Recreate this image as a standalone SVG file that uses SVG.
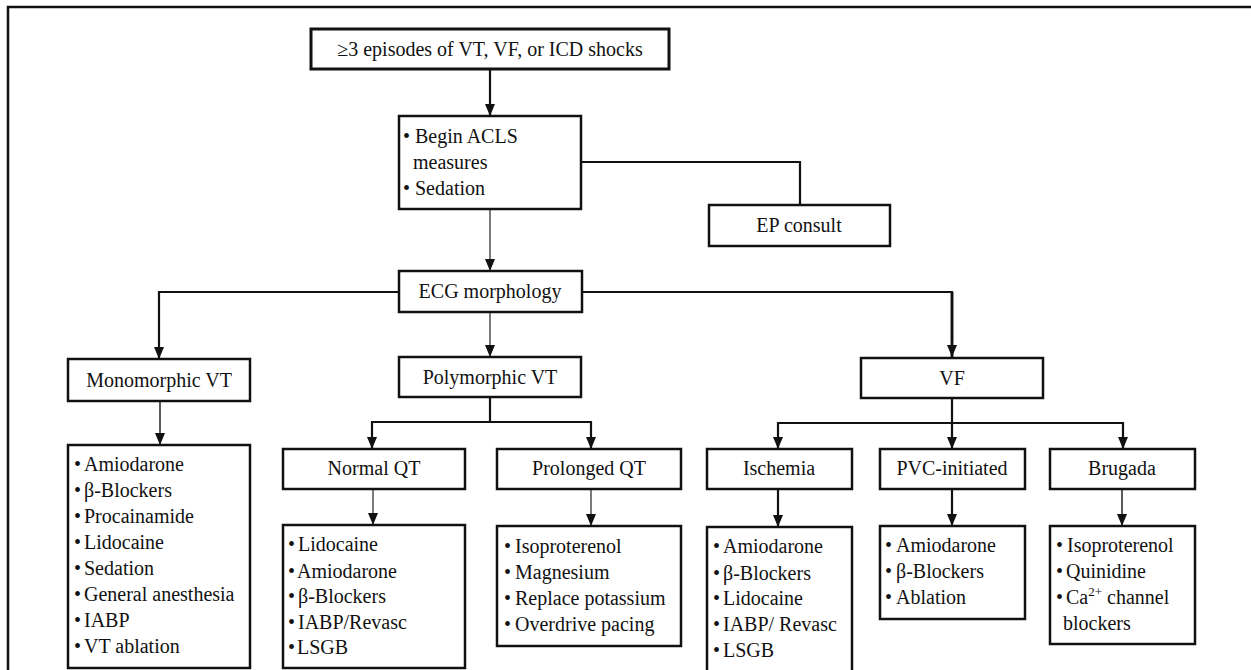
<svg xmlns="http://www.w3.org/2000/svg" width="1251" height="670" viewBox="0 0 1251 670" font-family="'Liberation Serif', 'DejaVu Serif', serif">
<style>
  text { font-family: 'Liberation Serif', 'DejaVu Serif', serif; font-size: 20px; fill: #111; }
  .c { text-anchor: middle; }
  .box { fill: #fff; stroke: #111; stroke-width: 2.5; }
  .thick { fill: #fff; stroke: #111; stroke-width: 3; }
  .k { fill: none; stroke: #111; stroke-width: 2.2; }
  .t { fill: none; stroke: #333; stroke-width: 1.3; }
  .a { marker-end: url(#arr); }
</style>
<defs>
  <marker id="arr" markerUnits="userSpaceOnUse" markerWidth="12" markerHeight="12" viewBox="0 0 12 12" refX="12" refY="6" orient="auto">
    <path d="M0,1 L12,6 L0,11 z" fill="#111"/>
  </marker>
</defs>
<rect width="1251" height="670" fill="#fff"/>
<path d="M8,680 V7 H1251" fill="none" stroke="#111" stroke-width="2.5"/>

<g id="connectors">
  <line class="k a" x1="490" y1="69" x2="490" y2="116"/>
  <polyline class="k" points="581,162 800,162 800,205"/>
  <line class="t a" x1="490" y1="209" x2="490" y2="271"/>
  <polyline class="k a" points="399,292 159,292 159,359"/>
  <polyline class="k" points="582,292 952,292 952,340"/>
  <line x1="952" y1="292" x2="952" y2="357" stroke="#111" stroke-width="2.8" marker-end="url(#arr)"/>
  <line class="t a" x1="490" y1="312" x2="490" y2="357"/>
  <line class="t a" x1="160" y1="401" x2="160" y2="445" style="stroke-width:1.6"/>
  <polyline class="k" points="490,397 490,422"/>
  <polyline class="k a" points="490,422 372,422 372,449"/>
  <polyline class="k a" points="490,422 591,422 591,449"/>
  <line class="t a" x1="373" y1="489" x2="373" y2="525"/>
  <line class="t a" x1="591" y1="489" x2="591" y2="526"/>
  <line class="k a" x1="952" y1="398" x2="952" y2="449"/>
  <polyline class="k a" points="952,423 778,423 778,449"/>
  <polyline class="k a" points="952,423 1123,423 1123,449"/>
  <line class="k a" x1="778" y1="489" x2="778" y2="527"/>
  <line class="k a" x1="952" y1="489" x2="952" y2="526"/>
  <line class="t a" x1="1122" y1="489" x2="1122" y2="526" style="stroke-width:1.6"/>
</g>

<g id="n-start">
  <rect class="thick" x="311" y="29" width="358" height="40"/>
  <text class="c" x="490" y="56">≥3 episodes of VT, VF, or ICD shocks</text>
</g>
<g id="n-acls">
  <rect class="box" x="399" y="116" width="182" height="93"/>
  <text x="403" y="143">•</text><text x="415" y="143">Begin ACLS</text>
  <text x="413" y="169">measures</text>
  <text x="403" y="195">•</text><text x="415" y="195">Sedation</text>
</g>
<g id="n-ep">
  <rect class="box" x="709" y="205" width="181" height="41"/>
  <text class="c" x="799" y="232">EP consult</text>
</g>
<g id="n-ecg">
  <rect class="box" x="399" y="271" width="183" height="41"/>
  <text class="c" x="490" y="298">ECG morphology</text>
</g>
<g id="n-mono">
  <rect class="box" x="68" y="359" width="182" height="42"/>
  <text class="c" x="159" y="387">Monomorphic VT</text>
</g>
<g id="n-poly">
  <rect class="box" x="399" y="357" width="182" height="40"/>
  <text class="c" x="490" y="384">Polymorphic VT</text>
</g>
<g id="n-vf">
  <rect class="box" x="861" y="358" width="182" height="40"/>
  <text class="c" x="952" y="385">VF</text>
</g>
<g id="n-mono-list">
  <rect class="box" x="68" y="445" width="182" height="223"/>
  <text x="74" y="471">•</text><text x="84" y="471">Amiodarone</text>
  <text x="74" y="497">•</text><text x="84" y="497">β-Blockers</text>
  <text x="74" y="523">•</text><text x="84" y="523">Procainamide</text>
  <text x="74" y="549">•</text><text x="84" y="549">Lidocaine</text>
  <text x="74" y="575">•</text><text x="84" y="575">Sedation</text>
  <text x="74" y="601">•</text><text x="84" y="601">General anesthesia</text>
  <text x="74" y="627">•</text><text x="84" y="627">IABP</text>
  <text x="74" y="653">•</text><text x="84" y="653">VT ablation</text>
</g>
<g id="n-normal">
  <rect class="box" x="283" y="449" width="182" height="40"/>
  <text class="c" x="374" y="475">Normal QT</text>
</g>
<g id="n-normal-list">
  <rect class="box" x="283" y="525" width="182" height="143"/>
  <text x="288" y="551">•</text><text x="298" y="551">Lidocaine</text>
  <text x="288" y="578">•</text><text x="297" y="578">Amiodarone</text>
  <text x="288" y="603">•</text><text x="298" y="603">β-Blockers</text>
  <text x="288" y="629">•</text><text x="298" y="629">IABP/Revasc</text>
  <text x="288" y="654">•</text><text x="297" y="654">LSGB</text>
</g>
<g id="n-prolonged">
  <rect class="box" x="497" y="449" width="184" height="40"/>
  <text class="c" x="589" y="475">Prolonged QT</text>
</g>
<g id="n-prolonged-list">
  <rect class="box" x="497" y="526" width="184" height="120"/>
  <text x="504" y="553">•</text><text x="515" y="553">Isoproterenol</text>
  <text x="504" y="579">•</text><text x="515" y="579">Magnesium</text>
  <text x="504" y="605">•</text><text x="515" y="605">Replace potassium</text>
  <text x="504" y="631">•</text><text x="515" y="631">Overdrive pacing</text>
</g>
<g id="n-ischemia">
  <rect class="box" x="707" y="449" width="145" height="40"/>
  <text class="c" x="779" y="475">Ischemia</text>
</g>
<g id="n-ischemia-list">
  <rect class="box" x="707" y="527" width="145" height="160"/>
  <text x="713" y="553">•</text><text x="723" y="553">Amiodarone</text>
  <text x="713" y="580">•</text><text x="723" y="580">β-Blockers</text>
  <text x="713" y="605">•</text><text x="723" y="605">Lidocaine</text>
  <text x="713" y="631">•</text><text x="723" y="631">IABP/ Revasc</text>
  <text x="713" y="657">•</text><text x="723" y="657">LSGB</text>
</g>
<g id="n-pvc">
  <rect class="box" x="880" y="449" width="145" height="40"/>
  <text class="c" x="952" y="475">PVC-initiated</text>
</g>
<g id="n-pvc-list">
  <rect class="box" x="880" y="526" width="145" height="93"/>
  <text x="885" y="552">•</text><text x="896" y="552">Amiodarone</text>
  <text x="885" y="578">•</text><text x="896" y="578">β-Blockers</text>
  <text x="885" y="604">•</text><text x="896" y="604">Ablation</text>
</g>
<g id="n-brugada">
  <rect class="box" x="1050" y="449" width="145" height="40"/>
  <text class="c" x="1122" y="475">Brugada</text>
</g>
<g id="n-brugada-list">
  <rect class="box" x="1050" y="526" width="145" height="118"/>
  <text x="1056" y="552">•</text><text x="1067" y="552">Isoproterenol</text>
  <text x="1056" y="578">•</text><text x="1066" y="578">Quinidine</text>
  <text x="1056" y="604">•</text><text x="1066" y="604">Ca<tspan font-size="13" dy="-8">2+</tspan><tspan dy="8"> channel</tspan></text>
  <text x="1063" y="630">blockers</text>
</g>
</svg>
